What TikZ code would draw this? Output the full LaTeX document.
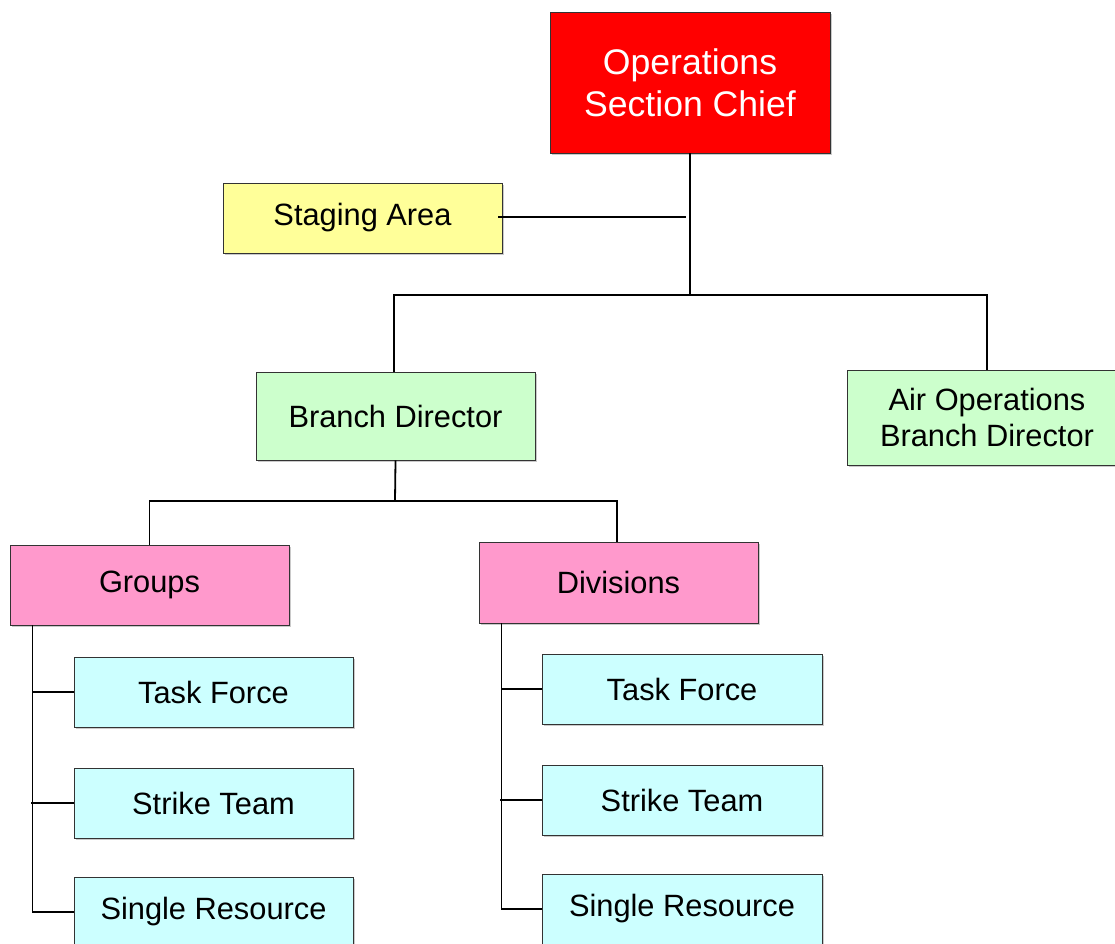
\documentclass[tikz,border=0pt]{standalone}
\usepackage{fontspec}
\setmainfont{Liberation Sans}
\usetikzlibrary{shadows}
\definecolor{opsred}{HTML}{FF0000}
\definecolor{stgyel}{HTML}{FFFF99}
\definecolor{brgreen}{HTML}{CCFFCC}
\definecolor{grppink}{HTML}{FF99CC}
\definecolor{rescyan}{HTML}{CCFFFF}
\definecolor{edgegray}{HTML}{333333}
\begin{document}
\begin{tikzpicture}[x=1pt,y=-1pt,
  orgbox/.style={draw=edgegray, line width=0.9pt, inner sep=0pt, align=center,
    font=\fontsize{30.8}{36}\selectfont,
    drop shadow={shadow xshift=1.5pt, shadow yshift=-1.5pt, fill=black!35, opacity=0.6}},
  link/.style={draw=black, line width=1.8pt}]
\useasboundingbox (0,0) rectangle (1115,943);
\node[orgbox, fill=opsred, text=white, minimum width=280pt, minimum height=141pt,
  font=\fontsize{35.6}{42}\selectfont] (ops) at (690,82.5) {Operations\\Section Chief};
\node[orgbox, fill=stgyel, minimum width=279pt, minimum height=70pt] (stg) at (362.5,218) {Staging Area};
\node[orgbox, fill=brgreen, minimum width=279pt, minimum height=88pt] (bd) at (395.5,416) {Branch Director};
\node[orgbox, fill=brgreen, minimum width=280pt, minimum height=95pt] (air) at (987,417.5) {Air Operations\\Branch Director};
\node[orgbox, fill=grppink, minimum width=279pt, minimum height=80pt] (grp) at (149.5,585) {Groups};
\node[orgbox, fill=grppink, minimum width=279pt, minimum height=81pt] (div) at (618.5,582.5) {Divisions};
\node[orgbox, fill=rescyan, minimum width=279pt, minimum height=70pt] (gtf) at (213.5,692) {Task Force};
\node[orgbox, fill=rescyan, minimum width=279pt, minimum height=70pt] (gst) at (213.5,803) {Strike Team};
\node[orgbox, fill=rescyan, minimum width=279pt, minimum height=70pt] (gsr) at (213.5,912) {Single Resource};
\node[orgbox, fill=rescyan, minimum width=280pt, minimum height=70pt] (dtf) at (682,689) {Task Force};
\node[orgbox, fill=rescyan, minimum width=280pt, minimum height=70pt] (dst) at (682,800) {Strike Team};
\node[orgbox, fill=rescyan, minimum width=280pt, minimum height=70pt] (dsr) at (682,909) {Single Resource};
% connectors
\coordinate (j1) at (690,295);
\coordinate (stgend) at (686,217);
\coordinate (j2) at (395,501);
\coordinate (gx) at ([xshift=23pt]grp.south west);
\coordinate (dx) at ([xshift=23pt]div.south west);
\draw[link] (ops.south) -- (j1);
\draw[link] ([xshift=-4pt]stgend -| stg.east) -- (stgend);
\draw[link] ([xshift=-1.5pt]bd.north) |- (j1) -| (air.north);
\draw[link] (bd.south) -- (j2);
\draw[link] (grp.north) |- (j2) -| ([xshift=-1.5pt]div.north);
\draw[link] (gx) |- (gsr.west);
\draw[link] (gtf.west) -- (gtf.west -| gx);
\draw[link] (gst.west) -- ([xshift=-2pt]gst.west -| gx);
\draw[link] (dx) |- (dsr.west);
\draw[link] (dtf.west) -- (dtf.west -| dx);
\draw[link] (dst.west) -- ([xshift=-2pt]dst.west -| dx);
\end{tikzpicture}
\end{document}
